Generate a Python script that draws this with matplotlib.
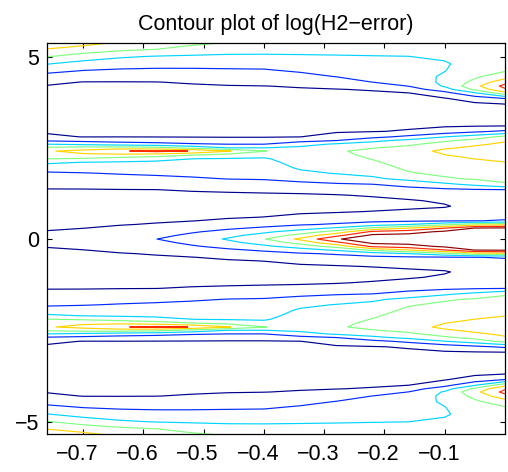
import numpy as np
import matplotlib
matplotlib.use("Agg")
import matplotlib.pyplot as plt
from matplotlib.transforms import ScaledTranslation

plt.rcParams['font.family'] = ['Liberation Sans', 'DejaVu Sans']

# grid: x positions of the columns, y positions of the rows (upper half, y >= 0)
x_vals = [-0.76, -0.70, -0.64, -0.58, -0.52, -0.46, -0.40, -0.34,
          -0.28, -0.22, -0.16, -0.10, -0.05, 0.0]
y_upper = [0.0, 0.1, 0.2, 0.3, 0.4, 0.5, 0.6, 0.75, 0.9, 1.05,
           1.2, 1.35, 1.5, 1.65, 1.8, 1.95, 2.1, 2.2, 2.3, 2.41,
           2.5, 2.6, 2.7, 2.8, 2.95, 3.1, 3.3, 3.5, 3.7, 3.85,
           4.0, 4.1, 4.19, 4.3, 4.45, 4.6, 4.8, 5.0, 5.2, 5.37]

# log(H2-error) read column by column (one list per x value, rows follow y_upper)
z_columns = [
    [1.3, 1.16, 1.03, 0.93, 0.84, 0.76, 0.67, 0.54, 0.58, 0.71,
     0.83, 0.96, 1.22, 1.54, 1.87, 2.41, 3.18, 4.04, 4.45, 4.9,
     4.16, 2.98, 1.86, 1.14, 0.90, 0.79, 0.65, 0.5, 0.63, 0.73,
     0.83, 0.9, 0.96, 1.17, 1.67, 2.21, 3.05, 4.05, 4.95, 6.05],
    [1.55, 1.36, 1.17, 0.99, 0.90, 0.81, 0.72, 0.59, 0.55, 0.69,
     0.82, 0.96, 1.26, 1.60, 1.95, 2.45, 2.97, 3.9, 4.82, 5.3,
     4.4, 2.75, 1.71, 0.98, 0.89, 0.79, 0.64, 0.5, 0.63, 0.72,
     0.81, 0.88, 0.93, 0.98, 1.47, 1.94, 2.6, 3.57, 4.56, 5.35],
    [1.75, 1.54, 1.33, 1.13, 0.96, 0.87, 0.78, 0.64, 0.5, 0.66,
     0.82, 0.98, 1.32, 1.68, 2.06, 2.47, 2.89, 3.6, 4.75, 5.9,
     4.5, 2.5, 1.57, 0.99, 0.88, 0.78, 0.64, 0.5, 0.62, 0.71,
     0.80, 0.86, 0.92, 0.98, 1.36, 1.82, 2.44, 3.13, 4.25, 4.85],
    [1.98, 1.75, 1.51, 1.28, 1.05, 0.92, 0.81, 0.66, 0.5, 0.67,
     0.83, 0.99, 1.38, 1.77, 2.14, 2.49, 2.84, 3.3, 4.5, 6.25,
     4.33, 2.33, 1.5, 0.98, 0.88, 0.77, 0.64, 0.5, 0.62, 0.71,
     0.80, 0.87, 0.92, 0.99, 1.36, 1.78, 2.35, 2.94, 4.02, 4.55],
    [2.45, 2.19, 1.90, 1.58, 1.26, 0.98, 0.86, 0.68, 0.5, 0.67,
     0.85, 1.06, 1.47, 1.89, 2.22, 2.51, 2.80, 3.01, 4.02, 5.97,
     3.67, 2.11, 1.36, 0.97, 0.87, 0.77, 0.63, 0.5, 0.63, 0.72,
     0.82, 0.88, 0.94, 1.05, 1.43, 1.8, 2.32, 2.86, 3.68, 4.2],
    [3.1, 2.73, 2.27, 1.86, 1.5, 1.14, 0.92, 0.72, 0.53, 0.67,
     0.86, 1.12, 1.56, 2.02, 2.26, 2.52, 2.78, 2.95, 3.64, 5.1,
     2.98, 1.98, 1.29, 0.96, 0.86, 0.76, 0.63, 0.5, 0.64, 0.74,
     0.84, 0.91, 0.97, 1.14, 1.49, 1.84, 2.33, 2.83, 3.41, 3.95],
    [3.95, 3.39, 2.8, 2.13, 1.71, 1.36, 1.01, 0.79, 0.57, 0.65,
     0.87, 1.19, 1.66, 2.06, 2.29, 2.52, 2.75, 2.91, 3.28, 4.05,
     2.98, 1.98, 1.29, 0.96, 0.86, 0.76, 0.63, 0.5, 0.64, 0.75,
     0.86, 0.93, 0.99, 1.22, 1.54, 1.87, 2.34, 2.83, 3.37, 3.85],
    [5.2, 4.36, 3.45, 2.58, 1.9, 1.55, 1.21, 0.87, 0.65, 0.6,
     0.88, 1.29, 1.77, 2.28, 2.79, 3.11, 3.29, 3.42, 3.54, 3.44,
     3.19, 2.63, 1.64, 0.99, 0.89, 0.78, 0.64, 0.5, 0.65, 0.76,
     0.87, 0.95, 1.05, 1.33, 1.72, 2.08, 2.48, 2.88, 3.34, 3.75],
    [6.9, 5.71, 4.38, 3.13, 2.1, 1.7, 1.37, 0.93, 0.67, 0.61,
     0.95, 1.42, 1.9, 2.5, 3.04, 3.25, 3.46, 3.6, 3.75, 3.9,
     3.53, 3.12, 1.98, 1.29, 0.92, 0.80, 0.65, 0.5, 0.66, 0.78,
     0.90, 0.98, 1.19, 1.53, 2.02, 2.25, 2.58, 2.92, 3.33, 3.7],
    [7.6, 7.23, 6.2, 4.2, 2.5, 1.79, 1.48, 1.03, 0.73, 0.76,
     1.09, 1.55, 1.99, 2.83, 3.24, 3.55, 3.86, 4.04, 4.19, 4.22,
     3.95, 3.42, 2.75, 1.71, 0.96, 0.83, 0.67, 0.5, 0.67, 0.8,
     0.92, 1.05, 1.48, 2.01, 2.21, 2.41, 2.68, 2.96, 3.33, 3.65],
    [7.8, 7.33, 6.57, 4.98, 2.98, 1.86, 1.57, 1.14, 0.83, 0.92,
     1.28, 1.69, 2.31, 3.26, 3.91, 4.2, 4.42, 4.57, 4.72, 4.58,
     4.25, 3.82, 3.24, 2.25, 1.07, 0.87, 0.69, 0.5, 0.69, 0.84,
     0.98, 1.53, 2.02, 2.16, 2.34, 2.52, 2.76, 2.99, 3.32, 3.6],
    [8.0, 7.6, 7.2, 5.98, 3.75, 1.92, 1.66, 1.26, 0.93, 1.12,
     1.47, 1.81, 2.78, 3.87, 4.2, 4.44, 4.67, 4.83, 4.98, 5.22,
     4.86, 4.38, 3.83, 2.98, 1.43, 0.91, 0.70, 0.5, 0.75, 0.94,
     1.67, 2.56, 3.11, 3.28, 3.2, 2.98, 2.9, 3.15, 3.35, 3.5],
    [8.2, 7.81, 7.43, 7.04, 4.5, 1.98, 1.81, 1.55, 1.29, 1.38,
     1.64, 1.91, 3.25, 4.1, 4.34, 4.59, 4.84, 5.01, 5.21, 5.45,
     5.2, 4.83, 4.28, 3.5, 1.79, 0.95, 0.69, 0.57, 0.86, 1.42,
     2.89, 4.22, 4.7, 4.25, 3.85, 3.6, 3.4, 3.45, 3.55, 3.65],
    [8.5, 8.05, 7.59, 7.14, 4.75, 2.05, 1.88, 1.67, 1.47, 1.54,
     1.76, 1.97, 3.89, 4.23, 4.48, 4.73, 4.98, 5.18, 5.38, 5.6,
     5.4, 5.18, 4.88, 4.29, 2.17, 0.99, 0.67, 0.67, 1.01, 2.02,
     4.63, 5.88, 6.3, 5.67, 4.53, 3.96, 3.8, 3.75, 3.72, 3.7],
]

contour_levels = [1, 2, 3, 4, 5, 6, 7]
# MATLAB-style jet colours for the seven levels
level_colors = ['#00008f', '#002bff', '#00d4ff', '#80ff80', '#ffd400', '#ff2b00', '#8f0000']
x_ticks = [-0.7, -0.6, -0.5, -0.4, -0.3, -0.2, -0.1]
y_ticks = [-5, 0, 5]

# the surface is symmetric about y = 0: reuse the upper half for y < 0
z_up = np.array(z_columns).T
y_arr = np.array(y_upper)
Y_full = np.concatenate([-y_arr[:0:-1], y_arr])
Z_full = np.vstack([z_up[:0:-1], z_up])
X, Y = np.meshgrid(np.array(x_vals), Y_full)

fig = plt.figure(figsize=(5.08, 4.72), dpi=100)
ax = fig.add_axes([47 / 508, 1 - 434 / 472, (505 - 47) / 508, (434 - 43) / 472])

ax.contour(X, Y, Z_full, levels=contour_levels, colors=level_colors,
           linewidths=0.85)

ax.set_xlim(-0.76, 0.0)
ax.set_ylim(-5.34, 5.37)
ax.set_xticks(x_ticks)
ax.set_yticks(y_ticks)
ax.set_xticklabels([f"{t:g}".replace('-', '\u2212') for t in x_ticks])
ax.set_yticklabels([f"{t:g}".replace('-', '\u2212') for t in y_ticks])
ax.tick_params(direction='in', top=True, right=True, length=3.3, width=0.8,
               labelsize=15.5, colors='black')
ax.tick_params(axis='x', pad=7.5)
ax.tick_params(axis='y', pad=5.5)
for s in ax.spines.values():
    s.set_linewidth(0.9)
    s.set_color('black')

offset = ScaledTranslation(-6 / 100, 0, fig.dpi_scale_trans)
for lab in ax.get_xticklabels():
    lab.set_transform(lab.get_transform() + offset)

ax.set_title('Contour plot of log(H2\u2212error)', fontsize=15.5, pad=9.5)

fig.savefig('out.png', dpi=100)
